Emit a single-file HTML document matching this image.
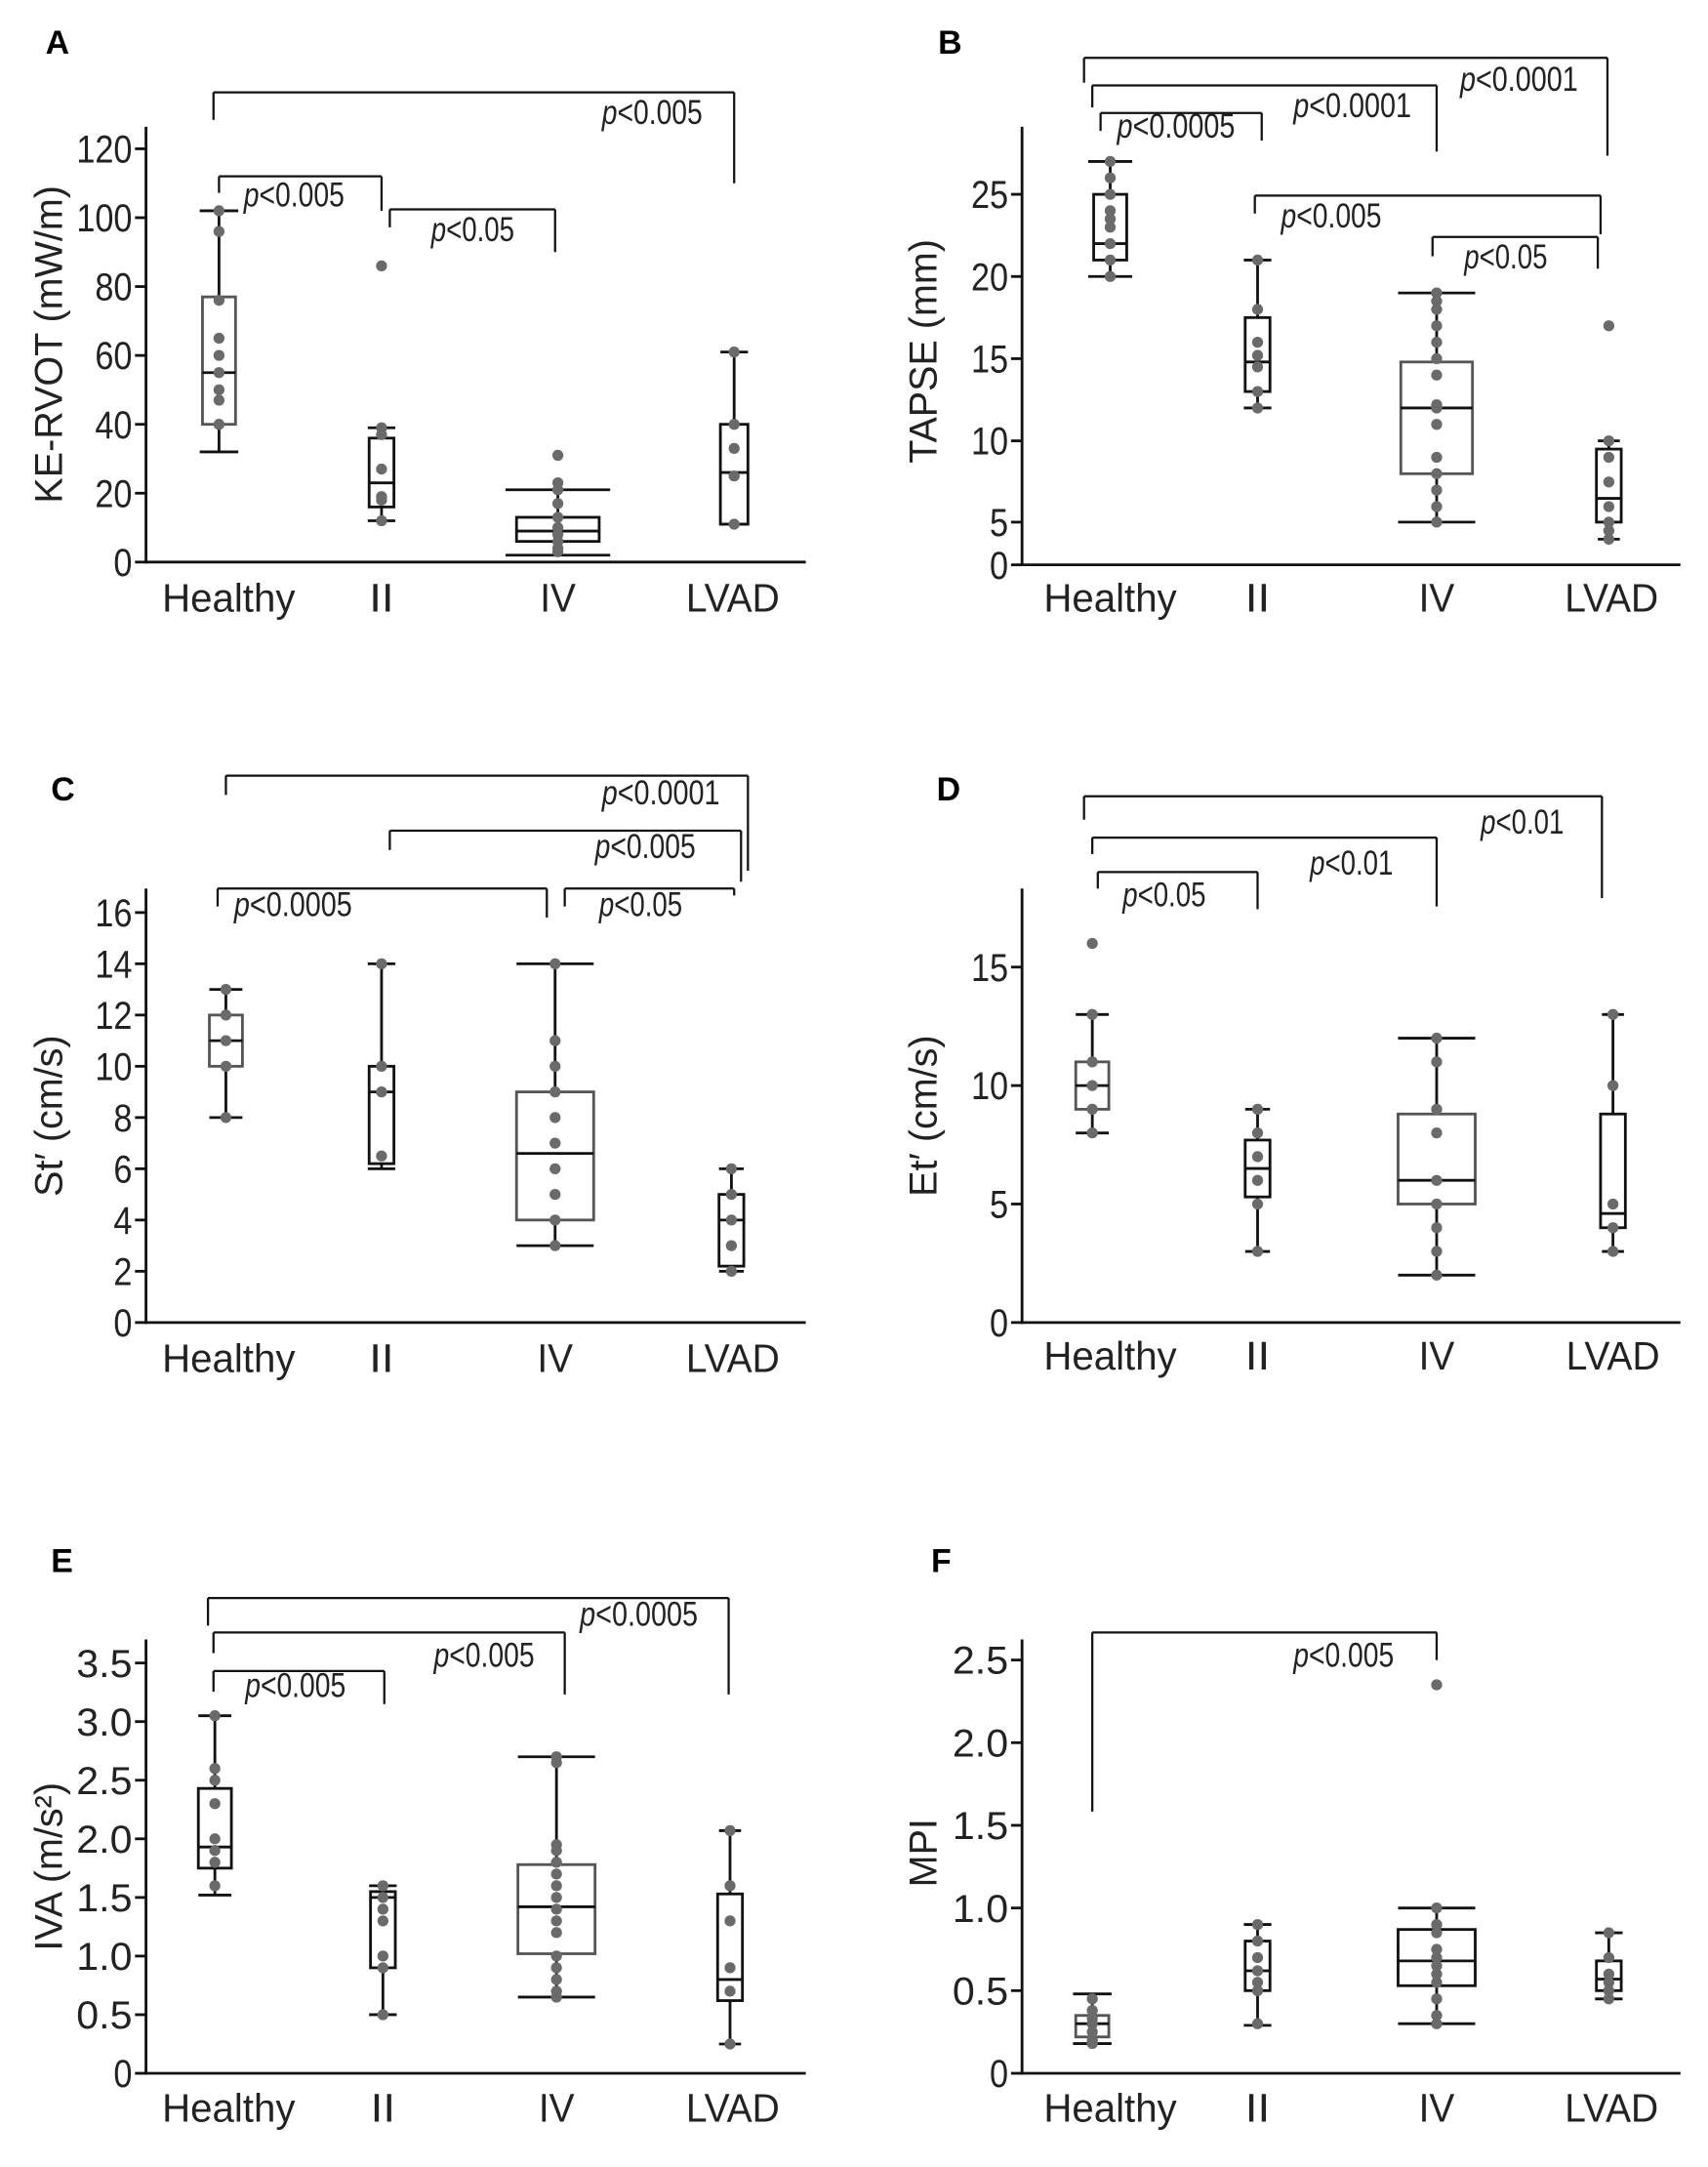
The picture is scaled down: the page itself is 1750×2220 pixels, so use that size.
<!DOCTYPE html>
<html><head><meta charset="utf-8">
<style>
html,body{margin:0;padding:0;background:#fff;}
svg{display:block;}
text{font-family:"Liberation Sans",sans-serif;}
</style></head>
<body>
<svg id="s" xmlns="http://www.w3.org/2000/svg" width="1750" height="2220" viewBox="0 0 1240 1573"></svg>
<script>
var s=document.getElementById('s');var out='';
function L(x1,y1,x2,y2,c,w){out+='<line x1="'+x1+'" y1="'+y1+'" x2="'+x2+'" y2="'+y2+'" stroke="'+(c||'#111')+'" stroke-width="'+(w||2)+'"/>';}
function T(x,y,t,o){o=o||{};out+='<text x="'+x+'" y="'+y+'" font-size="'+(o.fs||26)+'" fill="'+(o.c||'#222')+'" text-anchor="'+(o.a||'start')+'"'+(o.fw?' font-weight="bold"':'')+(o.tr?' transform="'+o.tr+'"':'')+(o.st?' font-style="italic"':'')+(o.tl?' textLength="'+o.tl+'" lengthAdjust="spacingAndGlyphs"':'')+'>'+t+'</text>';}
function P(x,y,t){out+='<text x="'+x+'" y="'+y+'" font-size="25" fill="#222" textLength="'+(t.length*12.6+10)+'" lengthAdjust="spacingAndGlyphs"><tspan font-style="italic">p</tspan>&lt;'+t+'</text>';}
function panel(p){
 var ax=p.ax,by=p.by,ym=p.ym;
 L(ax,p.top,ax,by+1);L(ax-1,by,p.right,by);
 p.ticks.forEach(function(t){var y=ym(t[0]);L(ax-8,y,ax,y);T(ax-10,y+10,t[1],{a:'end',fs:28,tl:t[1].length*13.5});});
 p.cats.forEach(function(c,i){T(p.lx2[i],p.ly,c,{a:'middle',fs:29,tl:c.length*(c=='II'?9:c=='IV'?13:c=='LVAD'?17:13.8)});});
 p.boxes.forEach(function(b,i){
  var x=p.gx[i],hw=b.w||12,cw=b.cw||14,col=b.c||'#111';
  L(x,ym(b.wl),x,ym(b.bl),'#111');L(x,ym(b.bh),x,ym(b.wh),'#111');
  L(x-cw,ym(b.wl),x+cw,ym(b.wl));L(x-cw,ym(b.wh),x+cw,ym(b.wh));
  out+='<rect x="'+(x-hw)+'" y="'+ym(b.bh)+'" width="'+(2*hw)+'" height="'+(ym(b.bl)-ym(b.bh))+'" fill="none" stroke="'+col+'" stroke-width="2"/>';
  L(x-hw,ym(b.md),x+hw,ym(b.md));
  b.d.forEach(function(v){out+='<circle cx="'+x+'" cy="'+ym(v)+'" r="4" fill="#6a6a6a"/>';});
 });
 p.br.forEach(function(b){L(b[0],b[2],b[1],b[2],'#111',1.6);L(b[0],b[2],b[0],b[3],'#111',1.6);L(b[1],b[2],b[1],b[4],'#111',1.6);P(b[5],b[6],b[7]);});
 T(p.lx,p.lly,p.lab,{a:'middle',fs:28,tr:'rotate(-90 '+p.lx+' '+p.lly+')'});
 T(p.px,p.py,p.pl,{fs:24,fw:1,c:'#000'});
}
var C4=['Healthy','II','IV','LVAD'];
panel({ax:106,top:92,by:408,right:585,ym:function(v){return 408-v*2.5},
ticks:[[0,'0'],[20,'20'],[40,'40'],[60,'60'],[80,'80'],[100,'100'],[120,'120']],
cats:C4,gx:[159,277,405,533],lx2:[166,277,405,532],ly:444,
boxes:[{wl:32,bl:40,bh:77,wh:102,md:55,d:[102,96,76,65,60,55,50,47,40],c:'#555'},
{wl:12,bl:16,bh:36,wh:39,md:23,d:[86,39,37,27,19,18,12],w:9,cw:10},
{wl:2,bl:6,bh:13,wh:21,md:9,d:[31,23,21,17,13,10,8,6,4,3],w:30,cw:38},
{wl:11,bl:11,bh:40,wh:61,md:26,d:[61,40,33,25,11],w:10,cw:10}],
br:[[155,533,67,87,133,437,90,'0.005'],[159,277,128,140,153,177,150,'0.005'],[283,403,152,165,183,313,175,'0.05']],
lx:45,lly:250,lab:'KE-RVOT (mW/m)',px:33,py:39,pl:'A'});
function yb(v){return v<=5?410-v*6.2:439.3-v*11.93;}
panel({ax:742,top:92,by:410,right:1220,ym:yb,
ticks:[[0,'0'],[5,'5'],[10,'10'],[15,'15'],[20,'20'],[25,'25']],
cats:C4,gx:[806,913,1043,1168],lx2:[806,913,1043,1170],ly:444,
boxes:[{wl:20,bl:21,bh:25,wh:27,md:22,d:[27,26,25,24,23.5,23,22,21,20],w:12,cw:16},
{wl:12,bl:13,bh:17.5,wh:21,md:14.8,d:[21,18,16,15.2,14.5,13,12],w:9,cw:10},
{wl:5,bl:8,bh:14.8,wh:19,md:12,d:[19,18.5,18,17,16,15,14,12.2,12,11,9,8,7,6,5],w:26,cw:28,c:'#555'},
{wl:3,bl:5,bh:9.5,wh:10,md:6.5,d:[17,10,9,7.5,6,5,4,3],w:9,cw:8}],
br:[[787,1167,42,60,113,1060,66,'0.0001'],[793,1043,62,78,110,939,85,'0.0001'],[799,916,82,95,102,811,100,'0.0005'],[911,1162,142,155,170,930,165,'0.005'],[1040,1160,172,186,195,1063,195,'0.05']],
lx:680,lly:255,lab:'TAPSE (mm)',px:681,py:39,pl:'B'});
panel({ax:106,top:645,by:960,right:585,ym:function(v){return 960-v*18.6},
ticks:[[0,'0'],[2,'2'],[4,'4'],[6,'6'],[8,'8'],[10,'10'],[12,'12'],[14,'14'],[16,'16']],
cats:C4,gx:[164,277,403,531],lx2:[166,277,403,532],ly:996,
boxes:[{wl:8,bl:10,bh:12,wh:13,md:11,d:[13,12,11,10,8],w:12,cw:12,c:'#555'},
{wl:6,bl:6.2,bh:10,wh:14,md:9,d:[14,10,9,6.5],w:9,cw:10},
{wl:3,bl:4,bh:9,wh:14,md:6.6,d:[14,11,10,9,8,7,6,5,4,3],w:28,cw:28,c:'#555'},
{wl:2,bl:2.2,bh:5,wh:6,md:4,d:[6,5,4,3,2],w:9,cw:9}],
br:[[164,543,563,577,632,437,584,'0.0001'],[283,538,603,617,640,432,623,'0.005'],[158,397,645,658,666,170,665,'0.0005'],[410,533,645,658,650,435,665,'0.05']],
lx:45,lly:810,lab:'St′ (cm/s)',px:37,py:581,pl:'C'});
panel({ax:742,top:645,by:960,right:1220,ym:function(v){return 960-v*17.2},
ticks:[[0,'0'],[5,'5'],[10,'10'],[15,'15']],
cats:C4,gx:[793,913,1043,1171],lx2:[806,913,1043,1171],ly:994,
boxes:[{wl:8,bl:9,bh:11,wh:13,md:10,d:[16,13,11,10,9,8],w:12,cw:12,c:'#555'},
{wl:3,bl:5.3,bh:7.7,wh:9,md:6.5,d:[9,8,7,6,5,3],w:9,cw:9},
{wl:2,bl:5,bh:8.8,wh:12,md:6,d:[12,11,9,8,6,5,4,3,2],w:28,cw:28,c:'#555'},
{wl:3,bl:4,bh:8.8,wh:13,md:4.6,d:[13,10,5,4,3],w:9,cw:8}],
br:[[787,1163,578,595,652,1075,605,'0.01'],[793,1043,608,620,658,951,635,'0.01'],[797,913,633,645,660,815,658,'0.05']],
lx:680,lly:810,lab:'Et′ (cm/s)',px:680,py:581,pl:'D'});
panel({ax:106,top:1190,by:1505,right:585,ym:function(v){return 1505-v*85.1},
ticks:[[0,'0'],[0.5,'0.5'],[1,'1.0'],[1.5,'1.5'],[2,'2.0'],[2.5,'2.5'],[3,'3.0'],[3.5,'3.5']],
cats:C4,gx:[156,278,404,530],lx2:[166,278,404,532],ly:1540,
boxes:[{wl:1.52,bl:1.75,bh:2.43,wh:3.05,md:1.93,d:[3.05,2.6,2.5,2.3,2.0,1.9,1.8,1.6],w:12,cw:12},
{wl:0.5,bl:0.9,bh:1.55,wh:1.6,md:1.5,d:[1.6,1.5,1.4,1.3,1.0,0.9,0.5],w:9,cw:10},
{wl:0.65,bl:1.02,bh:1.78,wh:2.7,md:1.42,d:[2.7,2.65,1.95,1.9,1.8,1.7,1.6,1.5,1.4,1.3,1.2,1.0,0.9,0.8,0.7,0.65],w:28,cw:28,c:'#555'},
{wl:0.25,bl:0.62,bh:1.53,wh:2.07,md:0.8,d:[2.07,1.6,1.3,0.9,0.7,0.25],w:9,cw:8}],
br:[[151,529,1160,1180,1230,421,1180,'0.0005'],[155,410,1185,1200,1230,315,1210,'0.005'],[155,279,1213,1228,1237,178,1232,'0.005']],
lx:45,lly:1355,lab:'IVA (m/s²)',px:37,py:1141,pl:'E'});
panel({ax:742,top:1190,by:1505,right:1220,ym:function(v){return 1505-v*120},
ticks:[[0,'0'],[0.5,'0.5'],[1,'1.0'],[1.5,'1.5'],[2,'2.0'],[2.5,'2.5']],
cats:C4,gx:[793,913,1043,1168],lx2:[806,913,1043,1170],ly:1540,
boxes:[{wl:0.18,bl:0.22,bh:0.35,wh:0.48,md:0.3,d:[0.45,0.38,0.33,0.3,0.25,0.2,0.18],w:12,cw:14,c:'#555'},
{wl:0.29,bl:0.5,bh:0.8,wh:0.9,md:0.62,d:[0.9,0.8,0.7,0.62,0.55,0.5,0.3],w:9,cw:10},
{wl:0.3,bl:0.53,bh:0.87,wh:1.0,md:0.68,d:[2.35,1.0,0.9,0.85,0.75,0.7,0.65,0.6,0.55,0.45,0.35,0.3],w:28,cw:28},
{wl:0.45,bl:0.5,bh:0.68,wh:0.85,md:0.57,d:[0.85,0.7,0.6,0.55,0.5,0.45],w:9,cw:10}],
br:[[793,1043,1185,1315,1205,939,1210,'0.005']],
lx:680,lly:1345,lab:'MPI',px:676,py:1141,pl:'F'});
s.innerHTML=out;
</script>
</body></html>
